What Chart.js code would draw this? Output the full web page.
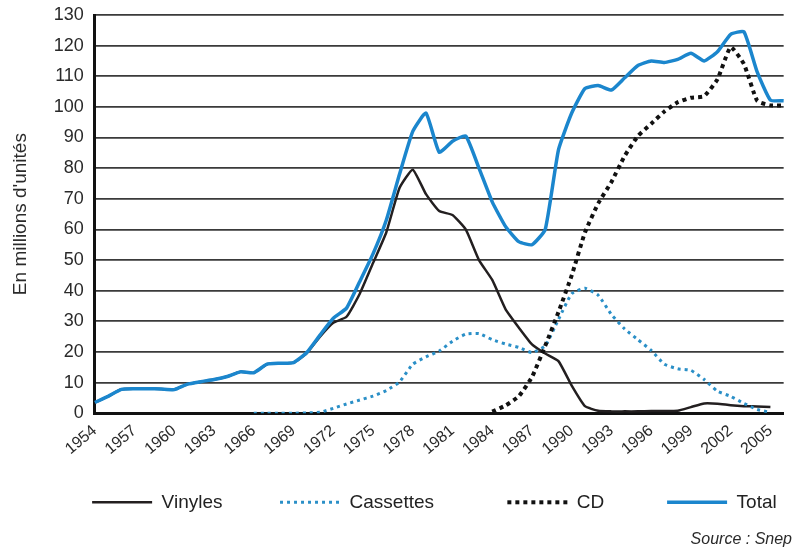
<!DOCTYPE html>
<html><head><meta charset="utf-8">
<script src="https://cdn.jsdelivr.net/npm/chart.js@4.4.1/dist/chart.umd.min.js"></script>
<style>html,body{margin:0;padding:0;background:#fff}#wrap{width:796px;height:553px;position:relative}</style>
</head><body><div id="wrap"><canvas id="c"></canvas></div>
<script>
const years = ['1954','1955','1956','1957','1958','1959','1960','1961','1962','1963','1964','1965','1966','1967','1968','1969','1970','1971','1972','1973','1974','1975','1976','1977','1978','1979','1980','1981','1982','1983','1984','1985','1986','1987','1988','1989','1990','1991','1992','1993','1994','1995','1996','1997','1998','1999','2000','2001','2002','2003','2004','2005','2006'];
const tickYears = ['1954','1957','1960','1963','1966','1969','1972','1975','1978','1981','1984','1987','1990','1993','1996','1999','2002','2005'];
const yTicks = [0,10,20,30,40,50,60,70,80,90,100,110,120,130];

const vinyles = [3.5,5.5,7.8,8,8,7.9,7.7,9.5,10.3,11,12,13.5,13.2,16,16.3,16.5,19.6,25,29.5,31.5,39,49,59,73.5,79.5,71.5,66,64.7,60,50,43.5,34,28,22.5,19.5,17,9,2.3,0.8,0.6,0.6,0.6,0.7,0.7,0.8,2,3.2,3.1,2.6,2.3,2.2,2,null];
const cassettes = [null,null,null,null,null,null,null,null,null,null,null,null,0,0,0,0,0.1,0.3,1.6,3,4.3,5.6,7.4,10.2,16,18.4,20.3,23.5,25.8,26,24,22.6,21.5,19.8,22,30.6,39,40.8,38.5,32.2,27.5,24,20.5,16,14.5,14,11,7.2,5.5,3.2,1.2,0.3,null];
const cd = [null,null,null,null,null,null,null,null,null,null,null,null,null,null,null,null,null,null,null,null,null,null,null,null,null,null,null,null,null,null,0.5,2.5,5.5,11.8,22,33,45,59,68.5,75.5,84,90.5,94.5,98.5,101.5,103,103.5,109,119.5,114,102,100.5,100.5];
const total = [3.5,5.5,7.8,8,8,7.9,7.7,9.5,10.3,11,12,13.5,13.2,16,16.3,16.5,19.8,25.5,31,34.3,43,52,63,78,92,98,85.2,88.8,90.5,80,69,61,56,55,60,86,98,106,107,105.5,109.5,113.5,115,114.5,115.5,117.5,115,118,123.7,124.5,111.4,102.2,102];

const names = ['Vinyles','Cassettes','CD','Total'];
const legendGap = [9,12,10,1];

const FONT = "'Liberation Sans', Arial, sans-serif";

new Chart(document.getElementById('c'), {
  type: 'line',
  data: {
    labels: years,
    datasets: [
      {label: names[0], data: vinyles, borderColor: '#231f20', borderWidth: 2.5, order: 3},
      {label: names[1], data: cassettes, borderColor: '#2a8fc7', borderWidth: 3, borderDash: [3,4], order: 2},
      {label: names[2], data: cd, borderColor: '#111111', borderWidth: 4, borderDash: [4,4], order: 1},
      {label: names[3], data: total, borderColor: '#1b86cd', borderWidth: 3.5, order: 0}
    ]
  },
  options: {
    responsive: true,
    maintainAspectRatio: false,
    animation: false,
    devicePixelRatio: 1,
    layout: {padding: {top: 15, left: 9, right: 4, bottom: 0}},
    elements: {point: {radius: 0, hoverRadius: 0}, line: {tension: 0.15, fill: false}},
    scales: {
      x: {
        grid: {display: false},
        border: {display: true, color: '#111', width: 3},
        afterFit: (s) => { s.height += 24; },
        ticks: {
          autoSkip: false, minRotation: 40, maxRotation: 40, padding: 0,
          color: '#2a2a2a', font: {family: FONT, size: 16},
          callback: function(v, i) { const l = this.getLabelForValue(v); return tickYears.includes(l) ? l : ''; }
        }
      },
      y: {
        min: 0, max: 130,
        afterBuildTicks: (s) => { s.ticks = yTicks.map(v => ({value: v})); },
        afterFit: (s) => { s.paddingTop = 0; },
        grid: {color: '#3a3a3a', lineWidth: 1.8, drawTicks: false},
        border: {display: true, color: '#111', width: 3},
        ticks: {padding: 11, color: '#2a2a2a', font: {family: FONT, size: 18}},
        title: {display: true, text: "En millions d'unités", color: '#2a2a2a', font: {family: FONT, size: 19}, padding: {top: 0, bottom: 11}}
      }
    },
    plugins: {
      tooltip: {enabled: false},
      legend: {
        position: 'bottom', align: 'end',
        labels: {
          usePointStyle: true, pointStyleWidth: 60, padding: 10,
          color: '#222', font: {family: FONT, size: 19},
          sort: (a, b) => a.datasetIndex - b.datasetIndex,
          generateLabels: (chart) => chart.data.datasets.map((ds, i) => ({
            text: ds.label + ' '.repeat(legendGap[i]),
            datasetIndex: i,
            fillStyle: ds.borderColor,
            strokeStyle: ds.borderColor,
            lineWidth: ds.borderWidth,
            lineDash: ds.borderDash || [],
            pointStyle: 'line',
            hidden: false,
            fontColor: '#222'
          }))
        }
      },
      subtitle: {
        display: true, text: 'Source : Snep', position: 'bottom', align: 'end',
        color: '#2a2a2a', font: {family: FONT, size: 16, style: 'italic'},
        padding: {top: 8, bottom: 4}
      }
    }
  }
});
</script></body></html>
